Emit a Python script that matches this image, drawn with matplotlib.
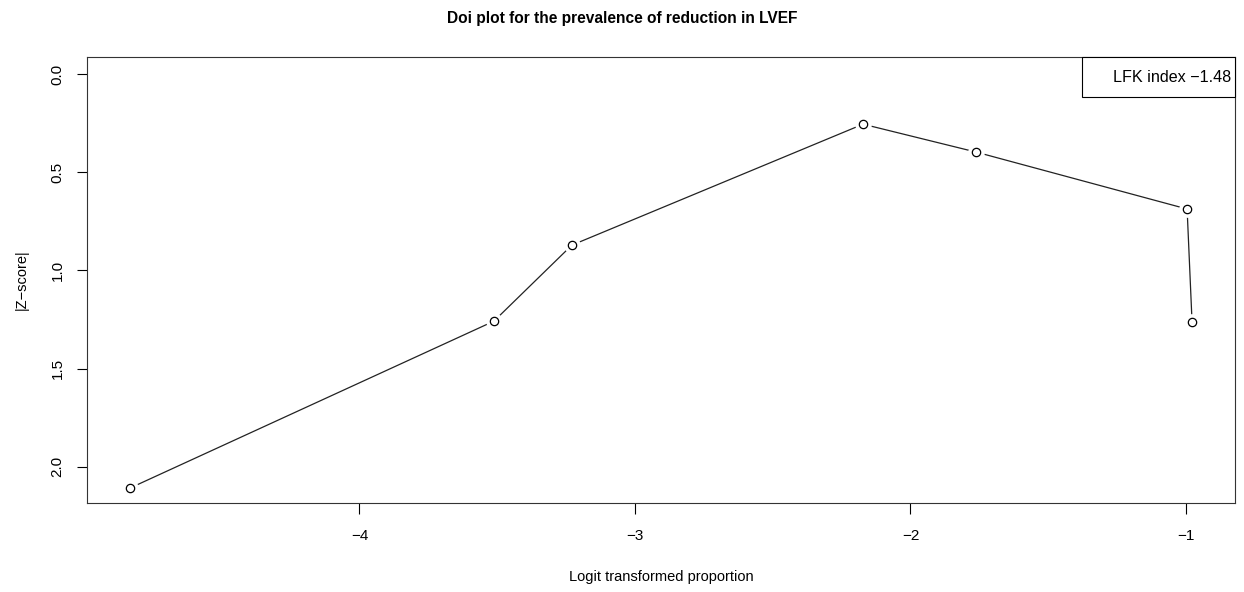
import matplotlib
matplotlib.use('Agg')
import matplotlib.pyplot as plt
from matplotlib.patches import Rectangle

plt.rcParams['font.family'] = ['Liberation Sans', 'DejaVu Sans']

# logit transformed proportion vs |Z-score|, points in plotting order
logit_prop = [-4.833, -3.512, -3.229, -2.172, -1.762, -0.996, -0.978]
z_score = [2.108, 1.258, 0.871, 0.255, 0.397, 0.687, 1.263]
x_ticks = [-4, -3, -2, -1]
y_ticks = [0.0, 0.5, 1.0, 1.5, 2.0]
lfk_index = -1.48

fig = plt.figure(figsize=(12.44, 5.92), dpi=100)
ax = fig.add_axes([0.0699, 0.1503, 0.9229, 0.7534])

# R type="b": line with gaps around the open circles
ax.plot(logit_prop, z_score, color="#222222", linewidth=0.9, zorder=2)
ax.plot(logit_prop, z_score, linestyle="none", marker="o", markersize=11,
        markerfacecolor="white", markeredgecolor="white", zorder=3)
ax.plot(logit_prop, z_score, linestyle="none", marker="o", markersize=6,
        markerfacecolor="white", markeredgecolor="black",
        markeredgewidth=0.9, zorder=4)

ax.set_xlim(-4.989, -0.822)
ax.set_ylim(2.184, -0.087)

ax.set_xticks(x_ticks)
ax.set_xticklabels([f"\u2212{abs(t)}" for t in x_ticks])
ax.set_yticks(y_ticks)
ax.set_yticklabels([f"{t:.1f}" for t in y_ticks], rotation=90, va="center")
ax.tick_params(axis="x", direction="out", length=8, width=0.8, labelsize=11, pad=10.5)
ax.tick_params(axis="y", direction="out", length=7, width=0.8, labelsize=11, pad=9)

for s in ax.spines.values():
    s.set_linewidth(0.8)
    s.set_color("#333333")

ax.set_xlabel("Logit transformed proportion", fontsize=10.5, labelpad=20)
ax.set_ylabel("|Z\u2212score|", fontsize=10.5, labelpad=16)
fig.text(0.5, 1 - 18 / 592, "Doi plot for the prevalence of reduction in LVEF",
         ha="center", va="center", fontsize=11.2, fontweight="bold")

# legend box in the top right corner, text only
ax.add_patch(Rectangle((0.8667, 0.9103), 0.1333, 0.0897, transform=ax.transAxes,
                       facecolor="white", edgecolor="black", linewidth=0.8,
                       clip_on=False, zorder=5))
ax.text(0.9965, 0.955, f"LFK index \u2212{abs(lfk_index):.2f}",
        transform=ax.transAxes, ha="right", va="center", fontsize=11.6, zorder=6)

fig.savefig("out.png", dpi=100, facecolor="white")
